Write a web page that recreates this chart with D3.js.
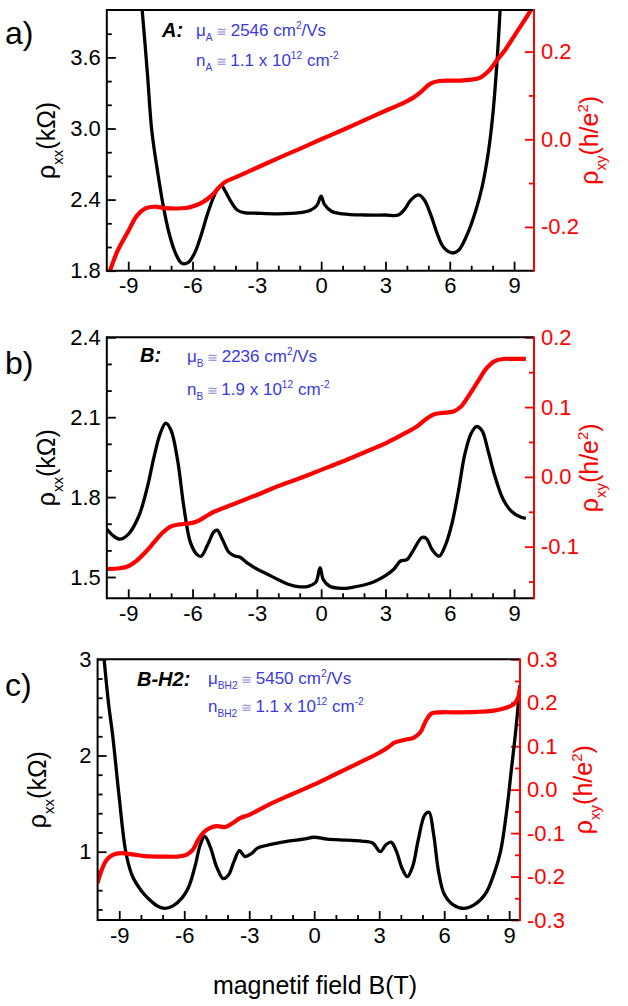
<!DOCTYPE html>
<html><head><meta charset="utf-8">
<script src="https://cdn.jsdelivr.net/npm/d3@7"></script>
<style>
body{margin:0;background:#fff}
svg{display:block}
text{font-family:"Liberation Sans",Arial,Helvetica,sans-serif}
</style>
</head><body>
<svg id="chart" width="628" height="1006"></svg>
<script>
// ---------------- DATA ----------------
const xMajorTicks = [-9, -6, -3, 0, 3, 6, 9];
const xTitle = "magnetif field B(T)";

// Panel a : sample A
const aRhoXX = [[-8.6,4.45],[-8.35,4.0],[-8.1,3.45],[-7.9,2.98],[-7.6,2.6],[-7.4,2.38],[-7.1,2.12],[-6.8,1.95],[-6.5,1.862],[-6.2,1.87],[-5.9,1.95],[-5.6,2.1],[-5.3,2.28],[-5.0,2.43],[-4.8,2.5],[-4.65,2.52],[-4.5,2.48],[-4.2,2.38],[-3.9,2.31],[-3.6,2.29],[-3,2.285],[-2,2.28],[-1,2.29],[-0.5,2.31],[-0.2,2.35],[0,2.43],[0.15,2.36],[0.5,2.3],[1,2.28],[2,2.27],[3,2.27],[3.6,2.27],[3.9,2.32],[4.2,2.4],[4.55,2.44],[4.8,2.4],[5.1,2.28],[5.4,2.12],[5.7,2.0],[6.1,1.95],[6.4,1.97],[6.8,2.1],[7.2,2.3],[7.5,2.5],[7.8,2.8],[8.0,3.1],[8.2,3.55],[8.35,4.0],[8.5,4.45]];
const aRhoXY = [[-9.85,-0.3],[-9.5,-0.255],[-9.0,-0.21],[-8.6,-0.175],[-8.2,-0.158],[-7.8,-0.154],[-7.3,-0.157],[-6.8,-0.158],[-6.3,-0.157],[-5.9,-0.152],[-5.5,-0.143],[-5.1,-0.128],[-4.8,-0.112],[-4.5,-0.098],[-4,-0.087],[-3,-0.065],[-2,-0.043],[-1,-0.022],[0,0.0],[1,0.021],[2,0.043],[3,0.065],[3.8,0.082],[4.3,0.095],[4.7,0.11],[5.1,0.127],[5.5,0.133],[6,0.134],[6.5,0.134],[7,0.136],[7.4,0.14],[7.8,0.155],[8.2,0.18],[8.6,0.205],[9.0,0.235],[9.4,0.265],[9.85,0.3]];
const aLeftTicks = [1.8, 2.4, 3.0, 3.6];
const aRightTicks = [-0.2, 0.0, 0.2];

// Panel b : sample B
const bRhoXX = [[-10,1.68],[-9.7,1.655],[-9.4,1.642],[-9.0,1.66],[-8.5,1.73],[-8.1,1.84],[-7.8,1.95],[-7.5,2.04],[-7.25,2.078],[-7.0,2.05],[-6.7,1.94],[-6.4,1.76],[-6.1,1.63],[-5.8,1.585],[-5.6,1.578],[-5.3,1.62],[-5.0,1.67],[-4.85,1.676],[-4.6,1.64],[-4.3,1.592],[-4.0,1.578],[-3.8,1.575],[-3.4,1.55],[-3,1.53],[-2.5,1.51],[-2,1.49],[-1.5,1.472],[-1,1.463],[-0.6,1.465],[-0.25,1.48],[-0.05,1.535],[0.1,1.49],[0.4,1.465],[1.0,1.457],[1.5,1.462],[2,1.47],[2.5,1.483],[3,1.505],[3.4,1.53],[3.7,1.56],[4.0,1.565],[4.3,1.6],[4.7,1.648],[4.9,1.645],[5.2,1.6],[5.5,1.578],[5.8,1.62],[6.1,1.7],[6.4,1.82],[6.7,1.96],[7.0,2.04],[7.25,2.065],[7.5,2.05],[7.8,1.97],[8.1,1.88],[8.5,1.79],[8.9,1.745],[9.3,1.725],[9.55,1.72]];
const bRhoXY = [[-10,-0.132],[-9.4,-0.131],[-9.0,-0.128],[-8.6,-0.12],[-8.2,-0.108],[-7.8,-0.094],[-7.4,-0.08],[-7.0,-0.071],[-6.6,-0.068],[-6.2,-0.067],[-5.8,-0.064],[-5.4,-0.057],[-5.0,-0.05],[-4.5,-0.044],[-3,-0.026],[-2,-0.013],[-1,-0.002],[0,0.01],[1,0.022],[2,0.035],[3,0.048],[4,0.064],[4.5,0.073],[4.9,0.083],[5.3,0.09],[5.8,0.092],[6.2,0.094],[6.5,0.1],[6.9,0.117],[7.3,0.136],[7.7,0.155],[8.1,0.166],[8.5,0.169],[9.0,0.169],[9.55,0.169]];
const bLeftTicks = [1.5, 1.8, 2.1, 2.4];
const bRightTicks = [-0.1, 0.0, 0.1, 0.2];

// Panel c : sample B-H2
const cRhoXX = [[-9.85,3.35],[-9.7,3.0],[-9.5,2.55],[-9.3,2.2],[-9.0,1.56],[-8.7,1.0],[-8.4,0.75],[-8.0,0.6],[-7.6,0.5],[-7.2,0.43],[-6.9,0.41],[-6.5,0.44],[-6.1,0.52],[-5.8,0.63],[-5.5,0.85],[-5.25,1.08],[-5.05,1.16],[-4.8,1.05],[-4.5,0.84],[-4.2,0.72],[-3.95,0.76],[-3.7,0.9],[-3.45,1.01],[-3.2,0.95],[-2.9,0.98],[-2.6,1.04],[-2,1.075],[-1.2,1.11],[-0.5,1.13],[0,1.15],[0.6,1.13],[1.5,1.12],[2.2,1.11],[2.7,1.09],[3.05,1.0],[3.3,1.07],[3.55,1.1],[3.8,1.0],[4.05,0.83],[4.3,0.74],[4.55,0.85],[4.8,1.12],[5.1,1.38],[5.3,1.41],[5.5,1.2],[5.75,0.78],[6.0,0.56],[6.4,0.45],[6.9,0.41],[7.4,0.45],[7.9,0.56],[8.3,0.77],[8.6,1.0],[8.9,1.45],[9.1,1.85],[9.3,2.25],[9.5,2.73]];
const cRhoXY = [[-10,-0.215],[-9.85,-0.19],[-9.6,-0.163],[-9.3,-0.15],[-8.9,-0.146],[-8.4,-0.149],[-7.8,-0.153],[-7,-0.154],[-6.3,-0.154],[-5.9,-0.15],[-5.6,-0.138],[-5.35,-0.115],[-5.1,-0.098],[-4.8,-0.088],[-4.5,-0.084],[-4.1,-0.086],[-3.8,-0.078],[-3.4,-0.065],[-3,-0.058],[-2,-0.032],[-1,-0.01],[0,0.012],[1,0.036],[2,0.06],[3,0.085],[3.4,0.097],[3.7,0.108],[4.2,0.115],[4.6,0.12],[4.9,0.132],[5.15,0.158],[5.4,0.175],[5.8,0.178],[6.5,0.178],[7.5,0.179],[8.3,0.182],[8.9,0.189],[9.2,0.196],[9.4,0.21],[9.5,0.235]];
const cLeftTicks = [1, 2, 3];
const cRightTicks = [-0.3, -0.2, -0.1, 0.0, 0.1, 0.2, 0.3];

const sampleNames = ["A:", "B:", "B-H2:"];
const mobilityLabels = [["A", "2546"], ["B", "2236"], ["BH2", "5450"]];
const densityLabels = [["A", "1.1"], ["B", "1.9"], ["BH2", "1.1"]];

// ---------------- LAYOUT ----------------
const panels = [
  {key:"a", label:"a)", rhoXX:aRhoXX, rhoXY:aRhoXY, leftTicks:aLeftTicks, leftMinor:0.2, leftFmt:d=>d.toFixed(1),
   rightTicks:aRightTicks, rightMinor:0.1, rightFmt:d=>d.toFixed(1),
   xDom:[-10,9.93], yLDom:[1.8,4.0], yRDom:[-0.3,0.295],
   box:{l:106.8,r:534,t:10,b:270.7}, labelY:44, leftLabelX:55, rightLabelX:598, nameX:162, nameY:37, blueX:196, blueY1:36, blueY2:66},
  {key:"b", label:"b)", rhoXX:bRhoXX, rhoXY:bRhoXY, leftTicks:bLeftTicks, leftMinor:0.1, leftFmt:d=>d.toFixed(1),
   rightTicks:bRightTicks, rightMinor:0.05, rightFmt:d=>d.toFixed(1),
   xDom:[-10,9.93], yLDom:[1.42,2.4], yRDom:[-0.174,0.2],
   box:{l:106.8,r:534,t:337.3,b:598.3}, labelY:374, leftLabelX:55, rightLabelX:598, nameX:140, nameY:362, blueX:187, blueY1:362, blueY2:395},
  {key:"c", label:"c)", rhoXX:cRhoXX, rhoXY:cRhoXY, leftTicks:cLeftTicks, leftMinor:0.2, leftFmt:d=>String(d),
   rightTicks:cRightTicks, rightMinor:0.05, rightFmt:d=>d.toFixed(1),
   xDom:[-10,9.5], yLDom:[0.29,3.0], yRDom:[-0.3,0.3],
   box:{l:97.6,r:520,t:659.3,b:920}, labelY:696, leftLabelX:46, rightLabelX:592, nameX:137, nameY:686, blueX:208, blueY1:684, blueY2:712}
];

const svg = d3.select("#chart");
const RED = "#ff0000", BLUE = "#3a3adb";

function rich(sel, parts, base) {
  let shift = 0;
  parts.forEach(p => {
    const ts = sel.append("tspan").text(p.t);
    let target = p.sub ? base*0.32 : (p.sup ? -base*0.42 : 0);
    ts.attr("dy", target - shift);
    shift = target;
    if (p.size) ts.attr("font-size", base*p.size);
    else if (p.sub || p.sup) ts.attr("font-size", base*0.6);
    if (p.fill) ts.attr("fill", p.fill);
  });
}

function minorVals(dom, step, major) {
  const lo = Math.min(dom[0], dom[1]), hi = Math.max(dom[0], dom[1]);
  const out = [];
  for (let v = Math.ceil(lo/step - 1e-6)*step; v <= hi + 1e-9; v += step) {
    const r = Math.round(v*1000)/1000;
    if (!major.some(m => Math.abs(m - r) < 1e-6) && r > lo + 1e-6 && r < hi - 1e-6) out.push(r);
  }
  return out;
}

panels.forEach(cfg => {
  const B = cfg.box;
  const g = svg.append("g");
  const x = d3.scaleLinear().domain(cfg.xDom).range([B.l, B.r]);
  const yL = d3.scaleLinear().domain(cfg.yLDom).range([B.b, B.t]);
  const yR = d3.scaleLinear().domain(cfg.yRDom).range([B.b, B.t]);

  const clipId = "clip-" + cfg.key;
  svg.append("clipPath").attr("id", clipId).append("rect")
    .attr("x", B.l).attr("y", B.t).attr("width", B.r - B.l).attr("height", B.b - B.t);

  // axes (ticks pointing inward)
  const styleAxis = (sel, color) => {
    sel.select(".domain").remove();
    sel.selectAll("line").attr("stroke", color).attr("stroke-width", 1.8);
    sel.selectAll("text").attr("fill", color).attr("font-size", 22)
      .attr("font-family", '"Liberation Sans", Arial, sans-serif');
  };
  const xMinor = minorVals(cfg.xDom, 1, xMajorTicks);
  g.append("g").attr("transform", `translate(0,${B.b})`)
    .call(d3.axisBottom(x).tickValues(xMajorTicks).tickSize(-9).tickPadding(7).tickFormat(d => String(d)))
    .call(s => styleAxis(s, "#000"));
  g.append("g").attr("transform", `translate(0,${B.b})`)
    .call(d3.axisBottom(x).tickValues(xMinor).tickSize(-5).tickFormat(""))
    .call(s => styleAxis(s, "#000"));

  const lMinor = minorVals(cfg.yLDom, cfg.leftMinor, cfg.leftTicks);
  g.append("g").attr("transform", `translate(${B.l},0)`)
    .call(d3.axisLeft(yL).tickValues(cfg.leftTicks).tickSize(-9).tickPadding(6).tickFormat(cfg.leftFmt))
    .call(s => styleAxis(s, "#000"));
  g.append("g").attr("transform", `translate(${B.l},0)`)
    .call(d3.axisLeft(yL).tickValues(lMinor).tickSize(-5).tickFormat(""))
    .call(s => styleAxis(s, "#000"));

  const rMinor = minorVals(cfg.yRDom, cfg.rightMinor, cfg.rightTicks);
  g.append("g").attr("transform", `translate(${B.r},0)`)
    .call(d3.axisRight(yR).tickValues(cfg.rightTicks).tickSize(-9).tickPadding(7).tickFormat(cfg.rightFmt))
    .call(s => styleAxis(s, RED));
  g.append("g").attr("transform", `translate(${B.r},0)`)
    .call(d3.axisRight(yR).tickValues(rMinor).tickSize(-5).tickFormat(""))
    .call(s => styleAxis(s, RED));

  // curves
  const lineXX = d3.line().x(d => x(d[0])).y(d => yL(d[1])).curve(d3.curveCatmullRom.alpha(0.5));
  const lineXY = d3.line().x(d => x(d[0])).y(d => yR(d[1])).curve(d3.curveCatmullRom.alpha(0.5));
  g.append("path").datum(cfg.rhoXX).attr("d", lineXX).attr("fill", "none")
    .attr("stroke", "#000").attr("stroke-width", 3.3).attr("stroke-linejoin", "round")
    .attr("clip-path", `url(#${clipId})`);
  g.append("path").datum(cfg.rhoXY).attr("d", lineXY).attr("fill", "none")
    .attr("stroke", RED).attr("stroke-width", 4.2).attr("stroke-linejoin", "round")
    .attr("clip-path", `url(#${clipId})`);

  // frame
  g.append("line").attr("x1", B.l).attr("x2", B.r).attr("y1", B.t).attr("y2", B.t).attr("stroke", "#000").attr("stroke-width", 2);
  g.append("line").attr("x1", B.l).attr("x2", B.r).attr("y1", B.b).attr("y2", B.b).attr("stroke", "#000").attr("stroke-width", 2);
  g.append("line").attr("x1", B.l).attr("x2", B.l).attr("y1", B.t - 1).attr("y2", B.b + 1).attr("stroke", "#000").attr("stroke-width", 2);
  g.append("line").attr("x1", B.r).attr("x2", B.r).attr("y1", B.t - 1).attr("y2", B.b + 1).attr("stroke", RED).attr("stroke-width", 2);

  // panel label
  g.append("text").attr("x", 5).attr("y", cfg.labelY).attr("font-size", 32).attr("fill", "#000").text(cfg.label);

  // y labels
  const cy = (B.t + B.b) / 2;
  const lt = g.append("text").attr("transform", `translate(${cfg.leftLabelX},${cy}) rotate(-90)`)
    .attr("text-anchor", "middle").attr("dy", "0.35em").attr("font-size", 25).attr("fill", "#000");
  rich(lt, [{t:"ρ"},{t:"xx", sub:true},{t:"(kΩ)"}], 25);
  const rt = g.append("text").attr("transform", `translate(${cfg.rightLabelX},${cy}) rotate(-90)`)
    .attr("text-anchor", "middle").attr("dy", "0.35em").attr("font-size", 25).attr("fill", RED);
  rich(rt, [{t:"ρ"},{t:"xy", sub:true},{t:"(h/e"},{t:"2", sup:true},{t:")"}], 25);

  // annotations
  const i = panels.indexOf(cfg);
  g.append("text").attr("x", cfg.nameX).attr("y", cfg.nameY).attr("font-size", 20)
    .attr("font-weight", "bold").attr("font-style", "italic").attr("fill", "#000").text(sampleNames[i]);
  const m = g.append("text").attr("x", cfg.blueX).attr("y", cfg.blueY1).attr("font-size", 17).attr("fill", BLUE);
  rich(m, [{t:"μ"},{t:mobilityLabels[i][0], sub:true},{t:" ≅ ", size:0.75, fill:"#8c8cd8"},{t:mobilityLabels[i][1] + " cm"},{t:"2", sup:true},{t:"/Vs"}], 17);
  const n = g.append("text").attr("x", cfg.blueX).attr("y", cfg.blueY2).attr("font-size", 17).attr("fill", BLUE);
  rich(n, [{t:"n"},{t:densityLabels[i][0], sub:true},{t:" ≅ ", size:0.75, fill:"#8c8cd8"},{t:densityLabels[i][1] + " x 10"},{t:"12", sup:true},{t:" cm"},{t:"-2", sup:true}], 17);
});

// x-axis title
svg.append("text").attr("x", 315).attr("y", 994).attr("text-anchor", "middle")
  .attr("font-size", 25).attr("fill", "#000").text(xTitle);
</script>
</body></html>
